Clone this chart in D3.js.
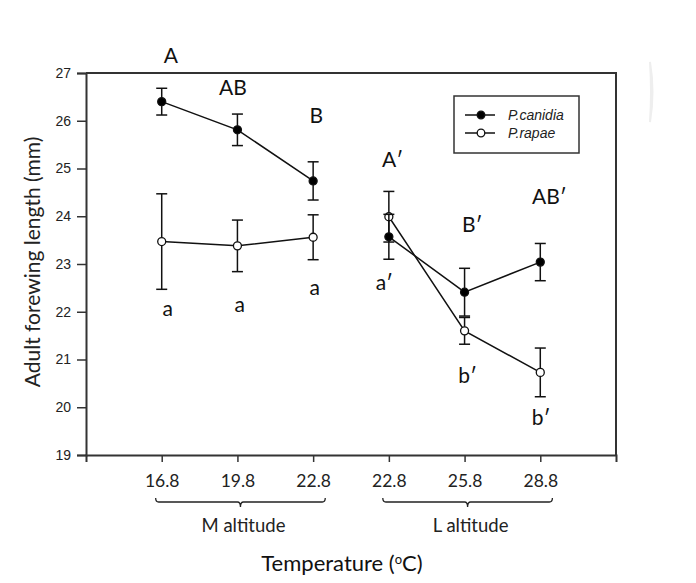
<!DOCTYPE html>
<html>
<head>
<meta charset="utf-8">
<script src="https://cdn.jsdelivr.net/npm/d3@7"></script>
<style>
	body { margin: 0; background: #fff; }
	svg { display: block; }
</style>
</head>
<body>
<svg id="chart"></svg>
<script>
// x categories (temperature, two altitude groups)
let temps = ['16.8', '19.8', '22.8', '22.8', '25.8', '28.8'];
let groups = ['M altitude', 'L altitude'];
let groupIdx = [[0, 1, 2], [3, 4, 5]];

// series: mean and error
let canidiaMean = [26.40, 25.81, 24.74, 23.57, 22.41, 23.04];
let canidiaErr  = [0.28, 0.33, 0.40, 0.47, 0.50, 0.39];
let rapaeMean   = [23.47, 23.38, 23.56, 23.99, 21.60, 20.73];
let rapaeErr    = [1.00, 0.54, 0.47, 0.53, 0.28, 0.51];

let yTicks = [19, 20, 21, 22, 23, 24, 25, 26, 27];

// significance letters, with where they sit (x in category units, y in mm)
let upperLetters = ['A', 'AB', 'B', 'A\u2032', 'B\u2032', 'AB\u2032'];
let upperPos = [[0.12, 27.21], [0.94, 26.54], [2.04, 25.96], [3.05, 25.04], [4.1, 23.68], [5.12, 24.26]];
let lowerLetters = ['a', 'a', 'a', 'a\u2032', 'b\u2032', 'b\u2032'];
let lowerPos = [[0.08, 21.91], [1.03, 21.99], [2.02, 22.35], [2.94, 22.46], [4.04, 20.51], [5.01, 19.63]];

let width = 696, height = 583;
let leftMargin = 86, rightEdge = 616, topMargin = 73, bottomEdge = 455;

let svg = d3.select('#chart')
	.attr('width', width)
	.attr('height', height);

let xScale = d3.scaleLinear().domain([-1, 6]).range([leftMargin, rightEdge]);
let yScale = d3.scaleLinear().domain([19, 27]).range([bottomEdge, topMargin]);

let axisColor = '#333';

// AXES
let yAxis = d3.axisLeft(yScale).tickValues(yTicks).tickSize(9).tickPadding(6).tickFormat(d3.format('d'));
let yAxisGroup = svg.append('g')
	.attr('transform', `translate(${leftMargin},0)`)
	.call(yAxis);
yAxisGroup.attr('font-family', 'Liberation Sans, Arial, sans-serif').attr('font-size', 14);
yAxisGroup.selectAll('text').attr('fill', '#222');

let xAxis = d3.axisBottom(xScale).tickValues(d3.range(temps.length)).tickSize(7).tickPadding(13)
	.tickFormat((d) => temps[d]);
let xAxisGroup = svg.append('g')
	.attr('transform', `translate(0,${bottomEdge})`)
	.call(xAxis);
xAxisGroup.attr('font-family', 'Lato, sans-serif').attr('font-size', 17.5);
xAxisGroup.selectAll('text').attr('fill', '#222');

[yAxisGroup, xAxisGroup].forEach((g) => {
	g.select('.domain').attr('stroke', axisColor).attr('stroke-width', 2);
	g.selectAll('.tick line').attr('stroke', axisColor).attr('stroke-width', 1.5);
});
// frame top + right
svg.append('path')
	.attr('d', `M${leftMargin},${topMargin}H${rightEdge}V${bottomEdge}`)
	.attr('fill', 'none')
	.attr('stroke', axisColor)
	.attr('stroke-width', 2);

// SERIES
let line = d3.line()
	.x((d) => xScale(d.i))
	.y((d) => yScale(d.v));

function drawSeries(means, errs, fill) {
	let pts = means.map((v, i) => ({ i: i, v: v, e: errs[i] }));
	let g = svg.append('g');

	// error bars
	let eb = g.selectAll('.eb').data(pts).enter().append('g').attr('class', 'eb');
	eb.append('line')
		.attr('x1', (d) => xScale(d.i)).attr('x2', (d) => xScale(d.i))
		.attr('y1', (d) => yScale(d.v - d.e)).attr('y2', (d) => yScale(d.v + d.e));
	eb.append('line')
		.attr('x1', (d) => xScale(d.i) - 5.5).attr('x2', (d) => xScale(d.i) + 5.5)
		.attr('y1', (d) => yScale(d.v + d.e)).attr('y2', (d) => yScale(d.v + d.e));
	eb.append('line')
		.attr('x1', (d) => xScale(d.i) - 5.5).attr('x2', (d) => xScale(d.i) + 5.5)
		.attr('y1', (d) => yScale(d.v - d.e)).attr('y2', (d) => yScale(d.v - d.e));
	eb.selectAll('line').attr('stroke', '#111').attr('stroke-width', 1.5);

	// lines, one per altitude group
	groupIdx.forEach((idx) => {
		g.append('path')
			.attr('d', line(idx.map((i) => pts[i])))
			.attr('fill', 'none')
			.attr('stroke', '#111')
			.attr('stroke-width', 1.5);
	});

	g.selectAll('circle').data(pts).enter().append('circle')
		.attr('cx', (d) => xScale(d.i))
		.attr('cy', (d) => yScale(d.v))
		.attr('r', 4)
		.attr('fill', fill)
		.attr('stroke', '#111')
		.attr('stroke-width', 1.3);
}

drawSeries(rapaeMean, rapaeErr, '#fff');
drawSeries(canidiaMean, canidiaErr, '#000');

// LETTERS
function drawLetters(labels, pos) {
	svg.append('g').selectAll('text').data(labels).enter().append('text')
		.attr('x', (d, i) => xScale(pos[i][0]))
		.attr('y', (d, i) => yScale(pos[i][1]))
		.attr('text-anchor', 'middle')
		.style('font-family', 'Lato, sans-serif')
		.style('font-size', '21px')
		.attr('fill', '#111')
		.text((d) => d);
}
drawLetters(upperLetters, upperPos);
drawLetters(lowerLetters, lowerPos);

// LEGEND
let legend = svg.append('g').attr('transform', 'translate(454,96)');
legend.append('rect')
	.attr('width', 125).attr('height', 57)
	.attr('fill', '#fff').attr('stroke', axisColor).attr('stroke-width', 1.5);
[['P.canidia', '#000'], ['P.rapae', '#fff']].forEach((item, k) => {
	let yy = 19 + k * 18;
	legend.append('line')
		.attr('x1', 11).attr('x2', 41).attr('y1', yy).attr('y2', yy)
		.attr('stroke', '#111').attr('stroke-width', 1.5);
	legend.append('circle')
		.attr('cx', 27).attr('cy', yy).attr('r', 3.8)
		.attr('fill', item[1]).attr('stroke', '#111').attr('stroke-width', 1.3);
	legend.append('text')
		.attr('x', 54).attr('y', yy + 5)
		.style('font-family', 'Liberation Sans, Arial, sans-serif')
		.style('font-size', '14px')
		.style('font-style', 'italic')
		.attr('fill', '#222')
		.text(item[0]);
});

// GROUP BRACKETS
groupIdx.forEach((idx, k) => {
	let x1 = xScale(idx[0] - 0.08);
	let x2 = xScale(idx[2] + 0.16);
	let cx = (x1 + x2) / 2;
	let yb = 502;
	svg.append('path')
		.attr('d', `M${x1},${yb - 4}Q${x1},${yb} ${x1 + 3},${yb}H${cx - 3}Q${cx},${yb} ${cx},${yb + 5}Q${cx},${yb} ${cx + 3},${yb}H${x2 - 3}Q${x2},${yb} ${x2},${yb - 4}`)
		.attr('fill', 'none')
		.attr('stroke', '#222')
		.attr('stroke-width', 1.3);
	svg.append('text')
		.attr('x', cx + 3)
		.attr('y', 532)
		.attr('text-anchor', 'middle')
		.style('font-family', 'Lato, sans-serif')
		.style('font-size', '18.5px')
		.attr('fill', '#222')
		.text(groups[k]);
});

// AXIS TITLES
let xt = svg.append('text')
	.attr('x', 342)
	.attr('y', 571)
	.attr('text-anchor', 'middle')
	.style('font-family', 'Lato, sans-serif')
	.style('font-size', '22px')
	.attr('fill', '#111');
xt.append('tspan').text('Temperature (');
xt.append('tspan').attr('dy', -7).style('font-size', '13px').text('o');
xt.append('tspan').attr('dy', 7).text('C)');

svg.append('text')
	.attr('transform', 'translate(40,262) rotate(-90)')
	.attr('text-anchor', 'middle')
	.style('font-family', 'Lato, sans-serif')
	.style('font-size', '21px')
	.attr('fill', '#222')
	.text('Adult forewing length (mm)');

// faint scan artefact at the top right
svg.append('path')
	.attr('d', 'M650,62Q655,92 650,122Q652,92 650,62Z')
	.attr('fill', '#ececec')
	.attr('stroke', '#eeeeee')
	.attr('stroke-width', 2);
</script>
</body>
</html>
